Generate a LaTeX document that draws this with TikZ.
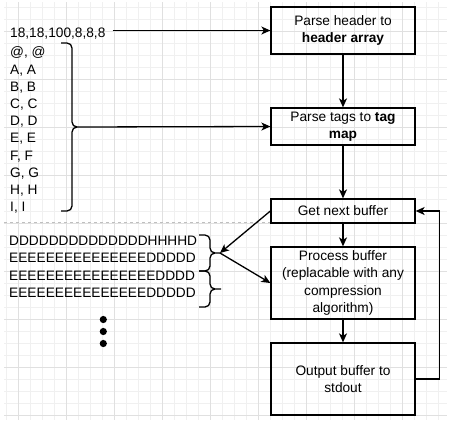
\documentclass[tikz,border=0pt]{standalone}
\usepackage{fontspec}
\setmainfont{Liberation Sans}
\usepackage{tikz}
\usetikzlibrary{arrows.meta}

\begin{document}
\begin{tikzpicture}[x=1pt,y=-1pt,
  font=\fontsize{13.7}{17.2}\selectfont,
  box/.style={draw, line width=1.3pt, minimum width=144pt, align=center, inner sep=0pt},
  arr/.style={line width=1.3pt, -{Stealth[length=9pt,width=8pt,inset=2.5pt]}},
  curly/.style={line width=1.3pt, rounded corners=5pt},
  minorgrid/.style={draw=black!6, line width=0.8pt},
  majorgrid/.style={draw=black!12, line width=0.8pt}]
  \useasboundingbox (0,0) rectangle (454,426);
  \fill[white] (0,0) rectangle (454,426);
  % Background grid: fine lines every 12, heavier every 48
  \foreach \gx in {6.7,18.7,...,447} \draw[minorgrid] (\gx,2) -- (\gx,420);
  \foreach \gy in {7,19,...,420} \draw[minorgrid] (4,\gy) -- (447,\gy);
  \foreach \gx in {18.7,66.7,...,447} \draw[majorgrid] (\gx,2) -- (\gx,420);
  \foreach \gy in {31,79,...,420} \draw[majorgrid] (4,\gy) -- (447,\gy);
  % Separator between file header and data
  \draw[black!25, line width=0.8pt, dash pattern=on 3pt off 3pt] (4,222) -- (271,222);

  % Input file: header line, tag lines, data lines
  % (base anchor of a multi-line node sits on its last line)
  \node[anchor=base west, inner sep=0pt] (hdrtxt) at (10,37.3) {18,18,100,8,8,8};
  \node[anchor=base west, inner sep=0pt, align=left] (taglist) at (10,211.7)
    {@, @\\A, A\\B, B\\C, C\\D, D\\E, E\\F, F\\G, G\\H, H\\I, I};
  \node[anchor=base west, inner sep=0pt, align=left] (buflist) at (9,297.3)
    {DDDDDDDDDDDDDDHHHHD\\EEEEEEEEEEEEEEEDDDDD\\EEEEEEEEEEEEEEEEDDDD\\EEEEEEEEEEEEEEEDDDDD};
  % More buffers follow
  \fill (103.3,319.5) circle (3.6pt);
  \fill (103.3,331.5) circle (3.6pt);
  \fill (103.3,343.5) circle (3.6pt);

  % Braces grouping the tags and the buffers
  \draw[curly] (61,43) -| (72,127) -- (77,127) (61,211) -| (72,127) -- (77,127);
  \coordinate (tagtip) at (77,127);
  \draw[curly] (199,235) -| (210,253) -- (220,253) (199,271) -| (210,253) -- (220,253);
  \coordinate (buftip) at (220,253);
  \draw[curly] (199,271) -| (210,289) -- (221,289) (199,307) -| (210,289) -- (221,289);

  % Processing steps
  \node[box, minimum height=47pt] (hdr) at (343,30.5) {Parse header to\\\textbf{header array}};
  \node[box, minimum height=37pt] (tags) at (343,126.5) {Parse tags to \textbf{tag}\\\textbf{map}};
  \node[box, minimum height=24pt] (nextbuf) at (343,211) {Get next buffer};
  \node[box, minimum height=72pt] (process) at (343,283)
    {Process buffer\\(replacable with any\\compression\\algorithm)};
  \node[box, minimum height=72pt] (output) at (343,379) {Output buffer to\\stdout};

  % Connectors
  \draw[arr] ([xshift=7pt]hdrtxt.east |- hdr.west) -- (hdr.west);
  \draw[arr] (tagtip) -- (tags.west);
  \draw[arr] (hdr.south) -- (tags.north);
  \draw[arr] (tags.south) -- (nextbuf.north);
  \draw[arr] (nextbuf.south) -- (process.north);
  \draw[arr] (process.south) -- (output.north);
  \draw[arr] (output.east) -- ++(24,0) |- (nextbuf.east);
  \draw[arr] (nextbuf.west) -- (buftip);
  \draw[arr] (buftip) -- (process.west);
\end{tikzpicture}
\end{document}
